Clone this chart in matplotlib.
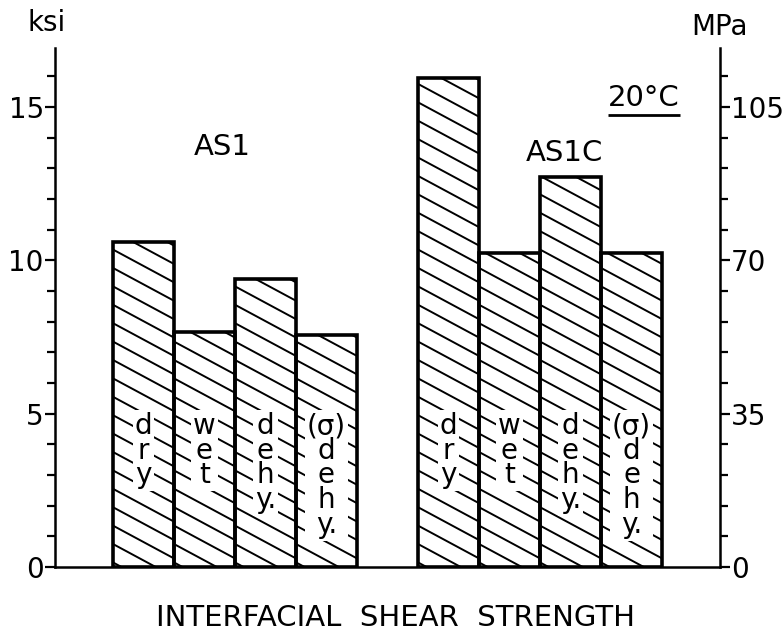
import numpy as np
import matplotlib
matplotlib.use("Agg")
import matplotlib.pyplot as plt
from matplotlib.collections import LineCollection
from matplotlib.ticker import MultipleLocator, FixedLocator

# values (ksi)
groups = ["AS1", "AS1C"]
conditions = ["d\nr\ny", "w\ne\nt", "d\ne\nh\ny.", "(σ)\nd\ne\nh\ny."]
as1_ksi = [10.6, 7.65, 9.4, 7.55]
as1c_ksi = [15.95, 10.25, 12.7, 10.25]
ksi_ticks = [0, 5, 10, 15]
mpa_ticks = [0, 35, 70, 105]
temp_label = "20°C"

plt.rcParams['font.family'] = ['DejaVu Sans']

fig = plt.figure(figsize=(7.83, 6.34), dpi=100)
ax = fig.add_axes([0.0702, 0.1057, 0.8493, 0.8186])

ymax = 16.92
ax.set_xlim(-1.45, 9.45)
ax.set_ylim(0, ymax)


def hatch_bar(rect, slope=-1.07, step=0.6, lw=1.4):
    # slanted hatch lines, clipped to the bar
    x0, y0 = rect.get_x(), rect.get_y()
    w, h = rect.get_width(), rect.get_height()
    c = np.arange(y0 + 0.15, y0 + h - slope * w, step)
    segs = [[(x0, ci), (x0 + w, ci + slope * w)] for ci in c]
    lc = LineCollection(segs, colors='black', linewidths=lw, zorder=2)
    ax.add_collection(lc)
    lc.set_clip_path(rect)  # after add_collection, else the axes patch wins


xpos = [0, 1, 2, 3, 5, 6, 7, 8]
heights = as1_ksi + as1c_ksi
labels = conditions + conditions

bars = ax.bar(xpos, heights, width=1.0, color='white', edgecolor='none', zorder=1)
for b in bars:
    hatch_bar(b)
ax.bar(xpos, heights, width=1.0, fill=False, edgecolor='black', linewidth=2.6, zorder=3)

for x, lab in zip(xpos, labels):
    ax.text(x, 5.05, lab, ha='center', va='top', fontsize=20, linespacing=0.85,
            zorder=4, bbox=dict(facecolor='white', edgecolor='none', pad=1.5))

ax.text(1.3, 13.7, groups[0], ha='center', va='center', fontsize=21)
ax.text(6.9, 13.5, groups[1], ha='center', va='center', fontsize=21)
t = ax.text(8.2, 15.3, temp_label, ha='center', va='center', fontsize=21)

# underline the temperature
fig.canvas.draw()
bb = t.get_window_extent().transformed(ax.transData.inverted())
ax.plot([bb.x0, bb.x1], [bb.y0 - 0.1, bb.y0 - 0.1], color='black', lw=2, solid_capstyle='butt')

for s in ['top', 'right']:
    ax.spines[s].set_visible(False)
for s in ['left', 'bottom']:
    ax.spines[s].set_linewidth(1.8)

ax.set_xticks([])
ax.yaxis.set_major_locator(FixedLocator(ksi_ticks))
ax.yaxis.set_minor_locator(MultipleLocator(1))
ax.tick_params(axis='y', which='major', direction='out', length=7, width=1.6,
               labelsize=20, pad=1)
ax.tick_params(axis='y', which='minor', direction='out', length=6, width=1.6)

ax2 = ax.twinx()
ax2.set_ylim(0, ymax * 7)
for s in ['top', 'left', 'bottom']:
    ax2.spines[s].set_visible(False)
ax2.spines['right'].set_linewidth(1.8)
ax2.yaxis.set_major_locator(FixedLocator(mpa_ticks))
ax2.yaxis.set_minor_locator(MultipleLocator(7))
ax2.tick_params(axis='y', which='major', direction='out', length=7, width=1.6,
                labelsize=20, pad=1)
ax2.tick_params(axis='y', which='minor', direction='out', length=6, width=1.6)

fig.text(47 / 783, 1 - 23 / 634, "ksi", ha='center', va='center', fontsize=20)
fig.text(720 / 783, 1 - 27 / 634, "MPa", ha='center', va='center', fontsize=20)
fig.text(395 / 783, 1 - 618 / 634, "INTERFACIAL  SHEAR  STRENGTH",
         ha='center', va='center', fontsize=21)

fig.savefig("out.png", dpi=100)
